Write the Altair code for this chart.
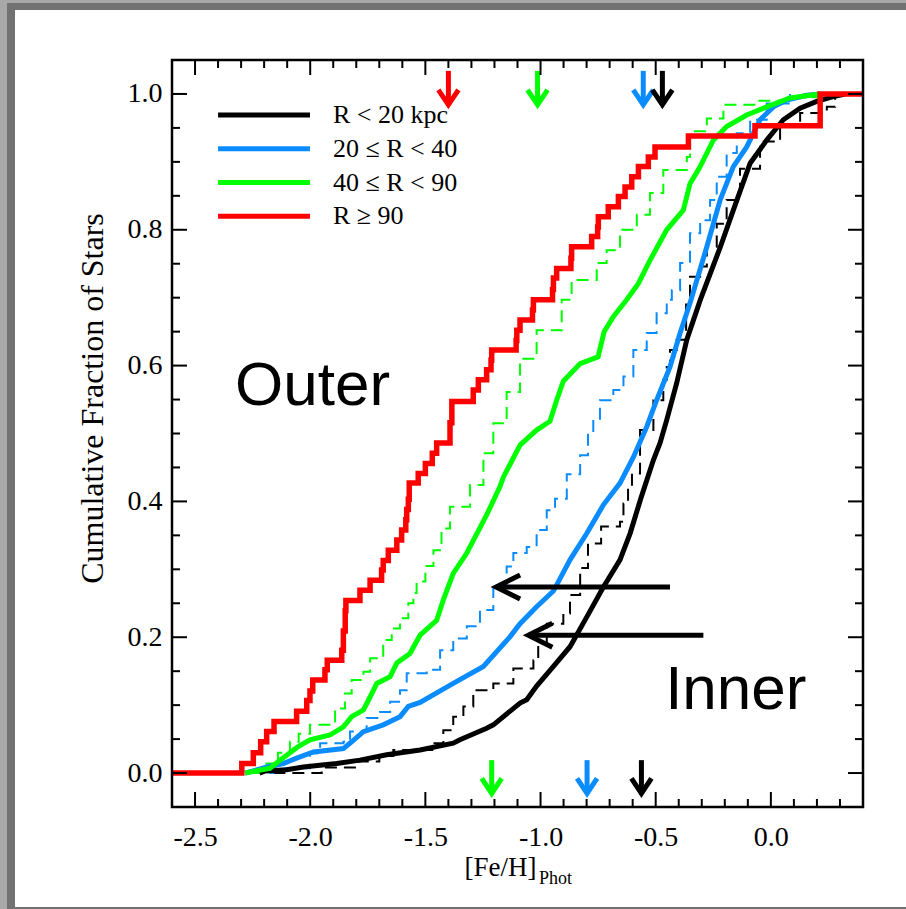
import altair as alt
import pandas as pd

# ---------------- data ----------------
series_names = ["R < 20 kpc", "20 ≤ R < 40", "40 ≤ R < 90", "R ≥ 90"]
series_colors = ["#000000", "#0A8CFF", "#00FF00", "#FF0000"]

# solid cumulative distributions
black_x = [-2.220, -2.196, -2.102, -2.030, -1.885, -1.784, -1.668, -1.523, -1.379, -1.350, -1.234, -1.205,
           -1.089, -1.060, -1.017, -0.944, -0.872, -0.799, -0.727, -0.655, -0.611, -0.564, -0.510, -0.481,
           -0.452, -0.409, -0.365, -0.306, -0.219, -0.163, -0.090, -0.018, 0.054, 0.127, 0.199, 0.271, 0.322]
black_y = [0.000, 0.003, 0.005, 0.009, 0.014, 0.019, 0.027, 0.034, 0.044, 0.049, 0.066, 0.071,
           0.103, 0.108, 0.128, 0.157, 0.186, 0.230, 0.274, 0.314, 0.353, 0.405, 0.461, 0.486,
           0.520, 0.574, 0.638, 0.697, 0.775, 0.829, 0.898, 0.932, 0.962, 0.979, 0.989, 0.996, 1.000]

blue_x = [-2.283, -2.175, -2.117, -2.059, -1.986, -1.856, -1.820, -1.769, -1.683, -1.610, -1.574, -1.523,
          -1.379, -1.248, -1.132, -1.089, -1.017, -0.944, -0.872, -0.799, -0.727, -0.655, -0.597, -0.539,
          -0.496, -0.438, -0.394, -0.351, -0.278, -0.220, -0.163, -0.105, -0.047, 0.011, 0.069, 0.156, 0.214]
blue_y = [0.000, 0.010, 0.014, 0.022, 0.031, 0.036, 0.046, 0.061, 0.071, 0.083, 0.098, 0.104,
          0.132, 0.157, 0.201, 0.220, 0.245, 0.268, 0.314, 0.353, 0.395, 0.427, 0.465, 0.510,
          0.549, 0.598, 0.648, 0.692, 0.775, 0.844, 0.893, 0.922, 0.962, 0.981, 0.991, 0.998, 1.000]

green_x = [-2.283, -2.175, -2.131, -2.052, -2.001, -1.914, -1.856, -1.820, -1.769, -1.740, -1.711, -1.653,
           -1.624, -1.567, -1.523, -1.451, -1.422, -1.379, -1.320, -1.234, -1.176, -1.161, -1.089, -1.017,
           -0.959, -0.930, -0.901, -0.828, -0.750, -0.724, -0.684, -0.626, -0.575, -0.525, -0.452, -0.380,
           -0.351, -0.307, -0.250, -0.192, -0.105, -0.018, 0.083, 0.214]
green_y = [0.000, 0.007, 0.019, 0.039, 0.049, 0.056, 0.068, 0.083, 0.093, 0.112, 0.132, 0.142,
           0.162, 0.176, 0.203, 0.225, 0.255, 0.294, 0.324, 0.380, 0.422, 0.436, 0.483, 0.505,
           0.518, 0.549, 0.577, 0.603, 0.613, 0.650, 0.672, 0.697, 0.721, 0.755, 0.800, 0.829,
           0.868, 0.893, 0.932, 0.952, 0.969, 0.981, 0.994, 1.000]

red_x = [-2.600, -2.297, -2.247, -2.215, -2.189, -2.157, -2.059, -2.015, -2.001, -1.989, -1.936, -1.926,
         -1.863, -1.856, -1.848, -1.845, -1.784, -1.740, -1.690, -1.683, -1.661, -1.624, -1.603, -1.585,
         -1.581, -1.574, -1.570, -1.531, -1.500, -1.470, -1.451, -1.393, -1.385, -1.292, -1.270, -1.234,
         -1.215, -1.212, -1.106, -1.103, -1.089, -1.035, -1.031, -0.948, -0.944, -0.930, -0.868, -0.865,
         -0.778, -0.752, -0.749, -0.706, -0.662, -0.633, -0.604, -0.575, -0.532, -0.503, -0.358, -0.069,
         0.214, 0.400]
red_y = [0.000, 0.014, 0.030, 0.046, 0.061, 0.076, 0.091, 0.107, 0.121, 0.137, 0.152, 0.166,
         0.181, 0.209, 0.239, 0.254, 0.269, 0.284, 0.299, 0.313, 0.328, 0.343, 0.358, 0.373,
         0.388, 0.403, 0.427, 0.441, 0.456, 0.471, 0.486, 0.516, 0.547, 0.564, 0.579, 0.594,
         0.608, 0.623, 0.637, 0.652, 0.667, 0.682, 0.697, 0.712, 0.729, 0.743, 0.758, 0.775,
         0.790, 0.804, 0.819, 0.834, 0.849, 0.863, 0.878, 0.893, 0.907, 0.922, 0.938, 0.953,
         1.000, 1.000]

# dashed cumulative distributions
gdash_x = [-2.250, -2.190, -2.140, -2.088, -2.050, -2.001, -1.892, -1.849, -1.820, -1.769, -1.740, -1.683,
           -1.646, -1.610, -1.574, -1.552, -1.538, -1.500, -1.465, -1.430, -1.393, -1.306, -1.248, -1.205,
           -1.147, -1.089, -1.017, -0.908, -0.865, -0.756, -0.713, -0.655, -0.582, -0.525, -0.467, -0.365,
           -0.351, -0.278, -0.206, -0.060, 0.083, 0.214]
gdash_y = [0.000, 0.014, 0.030, 0.046, 0.058, 0.071, 0.095, 0.117, 0.137, 0.149, 0.169, 0.196,
           0.213, 0.228, 0.250, 0.265, 0.282, 0.305, 0.328, 0.360, 0.392, 0.424, 0.471, 0.515,
           0.561, 0.610, 0.652, 0.697, 0.726, 0.751, 0.770, 0.800, 0.822, 0.854, 0.888, 0.907,
           0.945, 0.964, 0.984, 0.990, 0.995, 1.000]

bdash_x = [-2.260, -2.160, -2.001, -1.957, -1.856, -1.827, -1.755, -1.697, -1.653, -1.610, -1.581, -1.494,
           -1.436, -1.379, -1.320, -1.263, -1.205, -1.147, -1.118, -1.060, -1.017, -0.973, -0.937, -0.886,
           -0.828, -0.794, -0.771, -0.742, -0.684, -0.640, -0.597, -0.539, -0.496, -0.452, -0.430, -0.394,
           -0.351, -0.307, -0.264, -0.235, -0.192, -0.148, -0.090, -0.018, 0.083]
bdash_y = [0.000, 0.007, 0.029, 0.044, 0.046, 0.061, 0.081, 0.090, 0.105, 0.122, 0.147, 0.152,
           0.181, 0.198, 0.216, 0.240, 0.272, 0.304, 0.324, 0.333, 0.358, 0.387, 0.404, 0.440,
           0.468, 0.500, 0.520, 0.549, 0.564, 0.584, 0.623, 0.648, 0.677, 0.697, 0.711, 0.751,
           0.795, 0.814, 0.844, 0.878, 0.913, 0.942, 0.962, 0.986, 1.000]

kdash_x = [-2.160, -1.950, -1.800, -1.700, -1.639, -1.465, -1.422, -1.379, -1.335, -1.292, -1.205, -1.118,
           -1.031, -1.010, -0.973, -0.901, -0.872, -0.828, -0.794, -0.737, -0.655, -0.640, -0.620, -0.603,
           -0.568, -0.510, -0.467, -0.452, -0.438, -0.409, -0.368, -0.351, -0.307, -0.278, -0.235, -0.192,
           -0.134, -0.047, 0.040, 0.127, 0.243, 0.279]
kdash_y = [0.000, 0.008, 0.017, 0.025, 0.034, 0.044, 0.063, 0.083, 0.098, 0.122, 0.132, 0.154,
           0.166, 0.191, 0.220, 0.235, 0.262, 0.302, 0.338, 0.363, 0.370, 0.397, 0.420, 0.441,
           0.505, 0.549, 0.579, 0.598, 0.623, 0.638, 0.690, 0.731, 0.746, 0.775, 0.809, 0.844,
           0.890, 0.930, 0.955, 0.972, 0.981, 1.000]

# median markers (arrows)
top_arrow_x = [-1.400, -1.013, -0.554, -0.471]
top_arrow_series = ["R ≥ 90", "40 ≤ R < 90", "20 ≤ R < 40", "R < 20 kpc"]
bottom_arrow_x = [-1.212, -0.798, -0.562]
bottom_arrow_series = ["40 ≤ R < 90", "20 ≤ R < 40", "R < 20 kpc"]

# horizontal annotation arrows
harrow_tip_x = [-1.193, -1.053]
harrow_tail_x = [-0.438, -0.293]
harrow_y = [0.274, 0.203]

x_major = [-2.5, -2.0, -1.5, -1.0, -0.5, 0.0]
x_minor = [-2.4, -2.3, -2.2, -2.1, -1.9, -1.8, -1.7, -1.6, -1.4, -1.3, -1.2, -1.1,
           -0.9, -0.8, -0.7, -0.6, -0.4, -0.3, -0.2, -0.1, 0.1, 0.2, 0.3]
y_major = [0.0, 0.2, 0.4, 0.6, 0.8, 1.0]
y_minor = [0.05, 0.1, 0.15, 0.25, 0.3, 0.35, 0.45, 0.5, 0.55, 0.65, 0.7, 0.75, 0.85, 0.9, 0.95]

# ---------------- layout / style ----------------
W, H = 691, 747
SERIF = "Liberation Serif"
SANS = "Liberation Sans"
xscale = alt.Scale(domain=[-2.6, 0.4], nice=False, zero=False)
yscale = alt.Scale(domain=[-0.05, 1.05], nice=False, zero=False)
cscale = alt.Scale(domain=series_names, range=series_colors)

x_axis = alt.Axis(values=x_major,
                  labelExpr="(datum.value < 0 ? '-' : '') + format(abs(datum.value), '.1f')",
                  ticks=False, tickSize=0, domain=False, grid=False, zindex=2,
                  labelFont=SERIF, labelFontSize=28, labelColor="black", labelPadding=16,
                  labelFlush=False, labelOverlap=False,
                  title="[Fe/H]", titleFont=SERIF, titleFontSize=27, titleFontWeight="normal",
                  titleColor="black", titleX=328, titleY=68, titleAlign="center",
                  titleBaseline="alphabetic")
y_axis = alt.Axis(values=y_major, format=".1f",
                  ticks=False, tickSize=0, domain=False, grid=False, zindex=2,
                  labelFont=SERIF, labelFontSize=28, labelColor="black", labelPadding=10,
                  labelFlush=False, labelOverlap=False,
                  title="Cumulative Fraction of Stars", titleFont=SERIF, titleFontSize=32,
                  titleFontWeight="normal", titleColor="black", titleX=-70, titleY=338,
                  titleAngle=270, titleAlign="center", titleBaseline="alphabetic")


def X(field):
    return alt.X(f"{field}:Q", scale=xscale, axis=x_axis)


def Y(field):
    return alt.Y(f"{field}:Q", scale=yscale, axis=y_axis)


one = pd.DataFrame({"k": [0]})

# background frame of the figure (grey border, white page)
bg_white = alt.Chart(one).mark_rect(color="white").encode(
    x=alt.value(-157), x2=alt.value(740), y=alt.value(-50), y2=alt.value(847))
bg_left = alt.Chart(one).mark_rect(color="#a8a8a8").encode(
    x=alt.value(-172), x2=alt.value(-165), y=alt.value(-60), y2=alt.value(849))
bg_top = alt.Chart(one).mark_rect(color="#a8a8a8").encode(
    x=alt.value(-172), x2=alt.value(740), y=alt.value(-60), y2=alt.value(-57))

layers = [bg_white, bg_left, bg_top]


def curve(xs, ys, color, width, interp, dash=None):
    df = pd.DataFrame({"x": xs, "y": ys})
    kw = dict(color=color, strokeWidth=width, interpolate=interp, strokeJoin="miter")
    if dash is not None:
        kw["strokeDash"] = dash
    return alt.Chart(df).mark_line(**kw).encode(x=X("x"), y=Y("y"))


# dashed curves
layers.append(curve(kdash_x, kdash_y, "#000000", 2, "step-after", [12, 7]))
layers.append(curve(bdash_x, bdash_y, "#0A8CFF", 2, "step-after", [12, 7]))
layers.append(curve(gdash_x, gdash_y, "#00FF00", 2, "step-after", [12, 7]))
# solid curves
layers.append(curve(black_x, black_y, "#000000", 5, "linear"))
layers.append(curve(blue_x, blue_y, "#0A8CFF", 5, "linear"))
layers.append(curve(green_x, green_y, "#00FF00", 5, "linear"))
layers.append(curve(red_x, red_y, "#FF0000", 5.5, "step-after"))

# median arrows
top_df = pd.DataFrame({"x": top_arrow_x, "series": top_arrow_series})
bot_df = pd.DataFrame({"x": bottom_arrow_x, "series": bottom_arrow_series})
VSHAPE = "M-0.667,-1L0,0L0.667,-1"
for df, y_top, y_tip in [(top_df, 1.034, 0.984), (bot_df, 0.019, -0.030)]:
    layers.append(alt.Chart(df).mark_rule(strokeWidth=5).encode(
        x=X("x"), y=Y("yt"), y2="yb:Q",
        color=alt.Color("series:N", scale=cscale, legend=None)
    ).transform_calculate(yt=str(y_top), yb=str(y_tip + 0.006)))
    layers.append(alt.Chart(df).mark_point(shape=VSHAPE, size=900, filled=False, strokeWidth=5,
                                           opacity=1).encode(
        x=X("x"), y=Y("yp"),
        color=alt.Color("series:N", scale=cscale, legend=None)
    ).transform_calculate(yp=str(y_tip)))

# horizontal annotation arrows
h_df = pd.DataFrame({"tip": harrow_tip_x, "tail": harrow_tail_x, "y": harrow_y})
layers.append(alt.Chart(h_df).mark_rule(color="black", strokeWidth=5).encode(
    x=X("tip"), x2="tail:Q", y=Y("y")))
layers.append(alt.Chart(h_df).mark_point(shape="M1,-0.5L0,0L1,0.5", size=2304, filled=False,
                                         strokeWidth=5, color="black", opacity=1).encode(
    x=X("tip"), y=Y("y")))

# legend (drawn inside the plot)
leg_y0, leg_dy = 0.969, 0.0497
leg_df = pd.DataFrame({"series": series_names,
                       "y": [leg_y0 - i * leg_dy for i in range(len(series_names))]})
layers.append(alt.Chart(leg_df).mark_rule(strokeWidth=5).encode(
    x=X("x1"), x2="x2:Q", y=Y("y"),
    color=alt.Color("series:N", scale=cscale, legend=None)
).transform_calculate(x1="-2.400", x2="-2.001"))
layers.append(alt.Chart(leg_df).mark_text(font=SERIF, fontSize=26, align="left", baseline="middle",
                                          color="black").encode(
    x=X("tx"), y=Y("y"), text="series:N"
).transform_calculate(tx="-1.901"))

# region labels
txt_df = pd.DataFrame({"label": ["Outer", "Inner"], "x": [-2.326, -0.459], "y": [0.542, 0.095]})
layers.append(alt.Chart(txt_df).mark_text(font=SANS, fontSize=62, align="left",
                                          baseline="alphabetic", color="black").encode(
    x=X("x"), y=Y("y"), text="label:N"))

# subscript of the x-axis title
sub_df = pd.DataFrame({"label": ["Phot"], "x": [-1.007], "y": [-0.163]})
layers.append(alt.Chart(sub_df).mark_text(font=SERIF, fontSize=18, align="left",
                                          baseline="alphabetic", color="black").encode(
    x=X("x"), y=Y("y"), text="label:N"))

# ticks (IDL-style, inward, on all four sides)
xM = pd.DataFrame({"v": x_major})
xm = pd.DataFrame({"v": x_minor})
yM = pd.DataFrame({"v": y_major})
ym = pd.DataFrame({"v": y_minor})
for df, L in [(xM, 15), (xm, 8)]:
    layers.append(alt.Chart(df).mark_rule(color="black", strokeWidth=2).encode(
        x=X("v"), y=alt.value(H), y2=alt.value(H - L)))
    layers.append(alt.Chart(df).mark_rule(color="black", strokeWidth=2).encode(
        x=X("v"), y=alt.value(0), y2=alt.value(L)))
for df, L in [(yM, 15), (ym, 8)]:
    layers.append(alt.Chart(df).mark_rule(color="black", strokeWidth=2).encode(
        y=Y("v"), x=alt.value(0), x2=alt.value(L)))
    layers.append(alt.Chart(df).mark_rule(color="black", strokeWidth=2).encode(
        y=Y("v"), x=alt.value(W), x2=alt.value(W - L)))

# plot frame
layers.append(alt.Chart(one).mark_rect(fillOpacity=0, stroke="black", strokeWidth=2.5).encode(
    x=alt.value(0), x2=alt.value(W), y=alt.value(0), y2=alt.value(H)))

chart = alt.layer(*layers).properties(
    width=W, height=H,
    padding={"left": 172, "top": 60, "right": 43, "bottom": 102},
    autosize=alt.AutoSizeParams(type="none"),
    background="#727272",
).configure_view(stroke="transparent")

chart.save("out.html", embed_options={"renderer": "svg", "actions": False})
